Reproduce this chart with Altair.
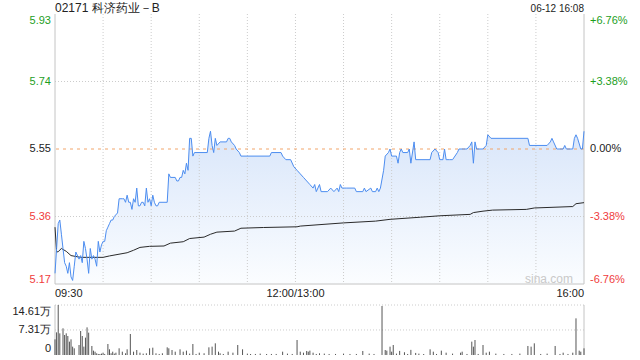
import altair as alt
import pandas as pd

TITLE = "02171 科济药业－B"
STAMP = "06-12 16:08"
WATERMARK = "sina.com"

PREV_CLOSE = 5.55
price_ticks = [5.93, 5.74, 5.55, 5.36, 5.17]
pct_ticks = ["+6.76%", "+3.38%", "0.00%", "-3.38%", "-6.76%"]
grid_minutes = [30, 60, 90, 120, 150, 180, 210, 240, 270, 300]
session_minutes = [0, 330]
time_labels = ["09:30", "12:00/13:00", "16:00"]
time_label_minutes = [0, 150, 330]
vol_ticks = [14.61, 7.31, 0]
vol_tick_labels = ["14.61万", "7.31万", "0"]

# minutes since 09:30 (lunch break removed), price in HKD
price_minute = [0, 1, 2, 3, 4, 5, 6, 7, 8, 9, 10, 11, 12, 13, 15, 16, 17, 18, 19, 20,
                21, 22, 23, 24, 25, 26, 27, 28, 29, 30, 31, 32, 33, 34, 35, 36, 37, 39, 40, 42,
                43, 44, 45, 46, 47, 48, 49, 50, 51, 52, 53, 54, 55, 56, 57, 58, 59, 60, 61, 62,
                63, 64, 65, 70, 71, 72, 75, 76, 77, 78, 79, 80, 81, 82, 83, 84, 85, 86, 87, 95,
                96, 97, 98, 99, 100, 101, 103, 107, 108, 109, 110, 112, 113, 115, 116, 134, 135, 141, 142, 144,
                147, 149, 151, 153, 155, 157, 159, 161, 162, 163, 165, 166, 170, 172, 174, 176, 177, 178, 179, 182,
                187, 188, 192, 193, 194, 197, 198, 200, 201, 202, 203, 205, 206, 208, 209, 210, 213, 214, 215, 216,
                217, 220, 221, 222, 224, 225, 234, 235, 237, 239, 240, 242, 243, 244, 246, 248, 251, 252, 255, 257,
                259, 260, 261, 262, 263, 267, 269, 270, 272, 295, 296, 307, 309, 310, 311, 313, 317, 318, 319, 323,
                324, 325, 326, 328, 329, 330]
price_value = [5.20, 5.27, 5.34, 5.35, 5.31, 5.27, 5.23, 5.22, 5.20, 5.23, 5.19, 5.18, 5.22, 5.26, 5.24, 5.25, 5.23, 5.29, 5.27, 5.24,
               5.20, 5.27, 5.24, 5.25, 5.24, 5.22, 5.29, 5.26, 5.28, 5.29, 5.29, 5.32, 5.33, 5.34, 5.35, 5.35, 5.36, 5.37, 5.41, 5.41,
               5.41, 5.40, 5.42, 5.40, 5.40, 5.38, 5.41, 5.40, 5.44, 5.39, 5.39, 5.40, 5.40, 5.39, 5.44, 5.40, 5.41, 5.39, 5.42, 5.40,
               5.39, 5.39, 5.40, 5.40, 5.48, 5.47, 5.47, 5.46, 5.46, 5.47, 5.47, 5.49, 5.48, 5.51, 5.49, 5.58, 5.58, 5.53, 5.54, 5.54,
               5.58, 5.60, 5.56, 5.54, 5.58, 5.56, 5.57, 5.57, 5.58, 5.58, 5.57, 5.56, 5.55, 5.54, 5.53, 5.53, 5.54, 5.54, 5.53, 5.52,
               5.52, 5.50, 5.49, 5.48, 5.47, 5.46, 5.45, 5.44, 5.45, 5.43, 5.45, 5.43, 5.43, 5.44, 5.43, 5.44, 5.43, 5.45, 5.44, 5.44,
               5.44, 5.43, 5.43, 5.44, 5.43, 5.44, 5.43, 5.43, 5.44, 5.43, 5.44, 5.49, 5.53, 5.54, 5.55, 5.53, 5.53, 5.51, 5.54, 5.55,
               5.54, 5.54, 5.55, 5.51, 5.57, 5.52, 5.52, 5.54, 5.55, 5.54, 5.52, 5.52, 5.55, 5.52, 5.52, 5.52, 5.54, 5.55, 5.55, 5.55,
               5.56, 5.57, 5.51, 5.57, 5.55, 5.55, 5.56, 5.59, 5.58, 5.58, 5.56, 5.56, 5.57, 5.58, 5.57, 5.55, 5.55, 5.56, 5.55, 5.55,
               5.58, 5.59, 5.58, 5.55, 5.55, 5.60]

avg_minute = [0, 1, 2, 4, 7, 10, 16, 30, 34, 45, 49, 53, 59, 68, 72, 80, 84, 93, 97, 101,
              112, 116, 130, 151, 153, 180, 200, 209, 228, 240, 259, 261, 267, 273, 294, 299, 323, 325, 330]
avg_value = [5.33, 5.26, 5.261, 5.27, 5.262, 5.25, 5.245, 5.245, 5.249, 5.258, 5.265, 5.273, 5.276, 5.277, 5.285, 5.289, 5.298, 5.302, 5.31, 5.316,
             5.319, 5.327, 5.329, 5.331, 5.333, 5.342, 5.347, 5.352, 5.358, 5.362, 5.366, 5.371, 5.375, 5.378, 5.38, 5.384, 5.388, 5.396, 5.399]

# volume in 万 shares
vol_minute = [0, 1, 2, 3, 5, 6, 7, 8, 9, 10, 11, 12, 15, 16, 17, 18, 19, 20, 21, 23,
              24, 25, 26, 28, 30, 33, 34, 36, 38, 40, 42, 45, 47, 49, 51, 53, 57, 59, 61, 63,
              70, 71, 73, 75, 78, 80, 82, 86, 90, 96, 98, 100, 102, 103, 108, 111, 114, 117, 122, 132,
              142, 151, 153, 155, 157, 158, 159, 161, 165, 192, 204, 206, 207, 209, 210, 211, 215, 218, 222, 225,
              230, 234, 236, 241, 244, 253, 254, 260, 261, 262, 267, 269, 271, 295, 297, 299, 312, 317, 323, 325,
              327, 328, 330,
              27, 29, 31, 35, 37, 44, 55, 65, 67, 84, 88, 93, 105, 120, 125, 128, 135, 138, 145, 148,
              163, 168, 171, 175, 180, 184, 188, 196, 199, 213, 220, 227, 238, 248, 257, 264, 275, 280, 285, 290,
              303, 307, 315, 320]
vol_value = [4.58, 6.62, 14.61, 6.33, 7.79, 5.84, 6.33, 5.55, 3.90, 4.58, 2.44, 1.95, 2.92, 7.01, 5.55, 2.44, 5.07, 8.08, 6.53, 2.63,
             1.27, 0.97, 0.49, 0.29, 0.68, 3.21, 1.66, 0.97, 0.68, 1.95, 0.97, 1.66, 6.14, 0.97, 1.46, 0.68, 0.49, 1.95, 2.14, 0.49,
             2.24, 1.95, 1.46, 0.97, 1.66, 0.97, 1.27, 3.21, 0.68, 2.24, 2.44, 3.41, 0.97, 0.49, 0.97, 0.68, 2.92, 1.66, 0.29, 0.29,
             0.97, 4.38, 0.97, 0.68, 1.17, 0.97, 1.27, 0.68, 0.49, 1.17, 14.32, 1.46, 1.27, 2.44, 0.97, 2.92, 1.2, 0.8, 1.5, 0.6,
             0.29, 1.66, 0.97, 1.27, 0.68, 0.68, 0.97, 3.90, 2.44, 4.38, 2.92, 0.68, 0.97, 2.63, 2.44, 3.41, 2.63, 0.68, 0.68, 10.71,
             1.27, 0.97, 1.95,
             0.3, 0.4, 0.3, 0.5, 0.4, 0.5, 0.4, 0.3, 0.5, 0.4, 0.3, 0.5, 0.3, 0.4, 0.3, 0.4, 0.3, 0.3, 0.4, 0.3,
             0.3, 0.4, 0.3, 0.3, 0.4, 0.3, 0.3, 0.4, 0.3, 0.4, 0.3, 0.4, 0.3, 0.4, 0.3, 0.3, 0.4, 0.3, 0.3, 0.4,
             0.3, 0.4, 0.3, 0.3]

W, H, VH = 529, 270, 50
PAD_L, PAD_T, PAD_R, PAD_B = 55, 14, 56, 5
FONT = "Liberation Sans"
GREEN, RED, BLACK = "#1d9e1d", "#f03c3c", "#222222"
GRID = "#cccccc"
FRAME = "#c4c4c4"

xs = alt.Scale(domain=[session_minutes[0], session_minutes[1]], nice=False, zero=False)
ys = alt.Scale(domain=[price_ticks[-1], price_ticks[0]], nice=False, zero=False)
vs = alt.Scale(domain=[vol_ticks[-1], vol_ticks[0]], nice=False, zero=True)
side_scale = alt.Scale(domain=["up", "flat", "down"], range=[GREEN, BLACK, RED])

price_df = pd.DataFrame({"minute": price_minute, "price": price_value})
avg_df = pd.DataFrame({"minute": avg_minute, "avg": avg_value})
vol_df = pd.DataFrame({"minute": vol_minute, "vol": vol_value})
tick_df = pd.DataFrame({"price": price_ticks, "pct": pct_ticks, "rank": list(range(len(price_ticks)))})
time_df = pd.DataFrame({"label": time_labels, "minute": time_label_minutes})
vtick_df = pd.DataFrame({"vol": vol_ticks, "label": vol_tick_labels, "rank": list(range(len(vol_ticks)))})
one_df = pd.DataFrame({"k": [0]})

X = alt.X("minute:Q", scale=xs, axis=None)
Yp = alt.Y("price:Q", scale=ys, axis=None)

area = alt.Chart(price_df).mark_area(
    line=False,
    fill=alt.Gradient(gradient="linear",
                      stops=[alt.GradientStop(color="#d9e6fa", offset=0),
                             alt.GradientStop(color="#fbfdff", offset=1)],
                      x1=0, x2=0, y1=0, y2=1),
).encode(x=X, y=Yp, y2=alt.datum(price_ticks[-1]))

hgrid = alt.Chart(tick_df).transform_filter("datum.rank == 1 || datum.rank == 3").mark_rule(
    color=GRID, strokeDash=[1, 2], strokeWidth=1).encode(y=Yp)
vgrid = alt.Chart(pd.DataFrame({"minute": grid_minutes})).mark_rule(
    color=GRID, strokeDash=[1, 2], strokeWidth=1).encode(x=X)
prev_line = alt.Chart(pd.DataFrame({"price": [PREV_CLOSE]})).mark_rule(
    color="#f2a56b", strokeDash=[3, 4], strokeWidth=1).encode(y=Yp)
frame_v = alt.Chart(pd.DataFrame({"minute": session_minutes})).mark_rule(
    color=FRAME, strokeWidth=1).encode(x=X)
frame_b = alt.Chart(tick_df).transform_filter("datum.rank == 4").mark_rule(
    color=FRAME, strokeWidth=1).encode(y=Yp)

avg_line = alt.Chart(avg_df).mark_line(color="#2a2a2a", strokeWidth=1).encode(
    x=X, y=alt.Y("avg:Q", scale=ys, axis=None))
price_line = alt.Chart(price_df).mark_line(color="#4c8df0", strokeWidth=1).encode(x=X, y=Yp)

side_expr = f"datum.price > {PREV_CLOSE} + 0.001 ? 'up' : (datum.price < {PREV_CLOSE} - 0.001 ? 'down' : 'flat')"


def tick_text(field, x_px, align, filt, baseline, dy, fmt=None):
    txt = alt.Text(f"{field}:Q", format=fmt) if fmt else alt.Text(f"{field}:N")
    return alt.Chart(tick_df).transform_filter(filt).transform_calculate(side=side_expr).mark_text(
        align=align, baseline=baseline, dy=dy, font=FONT, fontSize=11
    ).encode(x=alt.value(x_px), y=Yp, text=txt,
             color=alt.Color("side:N", scale=side_scale, legend=None))


label_layers = []
for filt, base, dy in [("datum.rank == 0", "top", 1), ("datum.rank > 0 && datum.rank < 4", "middle", 0),
                       ("datum.rank == 4", "bottom", 1)]:
    label_layers.append(tick_text("price", -4, "right", filt, base, dy, ".2f"))
    label_layers.append(tick_text("pct", W + 6, "left", filt, base, dy))

time_layers = []
for filt, align in [("datum.minute == 0", "left"), ("datum.minute == 150", "center"), ("datum.minute == 330", "right")]:
    time_layers.append(alt.Chart(time_df).transform_filter(filt).mark_text(
        align=align, baseline="middle", font=FONT, fontSize=11, color="#222222"
    ).encode(x=X, y=alt.value(H + 10), text="label:N"))

title = alt.Chart(pd.DataFrame({"t": [TITLE]})).mark_text(
    align="left", baseline="alphabetic", font=FONT, fontSize=12, color="#222222"
).encode(x=alt.value(0), y=alt.value(-2.5), text="t:N")
stamp = alt.Chart(pd.DataFrame({"t": [STAMP]})).mark_text(
    align="right", baseline="alphabetic", font=FONT, fontSize=10, color="#222222"
).encode(x=alt.value(W), y=alt.value(-2.5), text="t:N")
mark_wm = alt.Chart(pd.DataFrame({"t": [WATERMARK]})).mark_text(
    align="right", baseline="alphabetic", font=FONT, fontSize=12, color="#c9c9c9"
).encode(x=alt.value(W - 11), y=alt.value(H - 1), text="t:N")

# invisible rule that fixes the outer extent (top margin and side margins)
extent_top = alt.Chart(one_df).mark_rule(opacity=0, strokeWidth=0).encode(
    x=alt.value(-PAD_L), x2=alt.value(W + PAD_R), y=alt.value(-PAD_T))

price_panel = alt.layer(
    extent_top, area, hgrid, vgrid, prev_line, frame_v, frame_b, mark_wm, avg_line, price_line,
    *label_layers, *time_layers, title, stamp
).properties(width=W, height=H)

Yv = alt.Y("vol:Q", scale=vs, axis=None)
vgrid_v = alt.Chart(vtick_df).transform_filter("datum.rank < 2").mark_rule(
    color=GRID, strokeDash=[1, 2], strokeWidth=1).encode(y=Yv)
vframe = alt.Chart(pd.DataFrame({"minute": session_minutes})).mark_rule(
    color=FRAME, strokeWidth=1).encode(x=X)
bars = alt.Chart(vol_df).mark_rule(color="#555555", strokeWidth=1).encode(
    x=X, y=Yv, y2=alt.datum(0))

vlabels = []
for filt, base, dy in [("datum.rank == 0", "top", 1), ("datum.rank == 1", "middle", 0), ("datum.rank == 2", "bottom", -1)]:
    vlabels.append(alt.Chart(vtick_df).transform_filter(filt).mark_text(
        align="right", baseline=base, dy=dy, font=FONT, fontSize=11, color="#222222"
    ).encode(x=alt.value(-4), y=Yv, text="label:N"))

extent_bottom = alt.Chart(one_df).mark_rule(opacity=0, strokeWidth=0).encode(
    x=alt.value(-PAD_L), x2=alt.value(W + PAD_R), y=alt.value(VH + PAD_B))

vol_panel = alt.layer(extent_bottom, vgrid_v, vframe, bars, *vlabels).properties(width=W, height=VH)

chart = alt.vconcat(price_panel, vol_panel, spacing=21, bounds="flush").properties(
    padding=0,
    background="white",
).configure_view(strokeWidth=0)

chart.save("out.html", embed_options={"renderer": "svg", "actions": False})
